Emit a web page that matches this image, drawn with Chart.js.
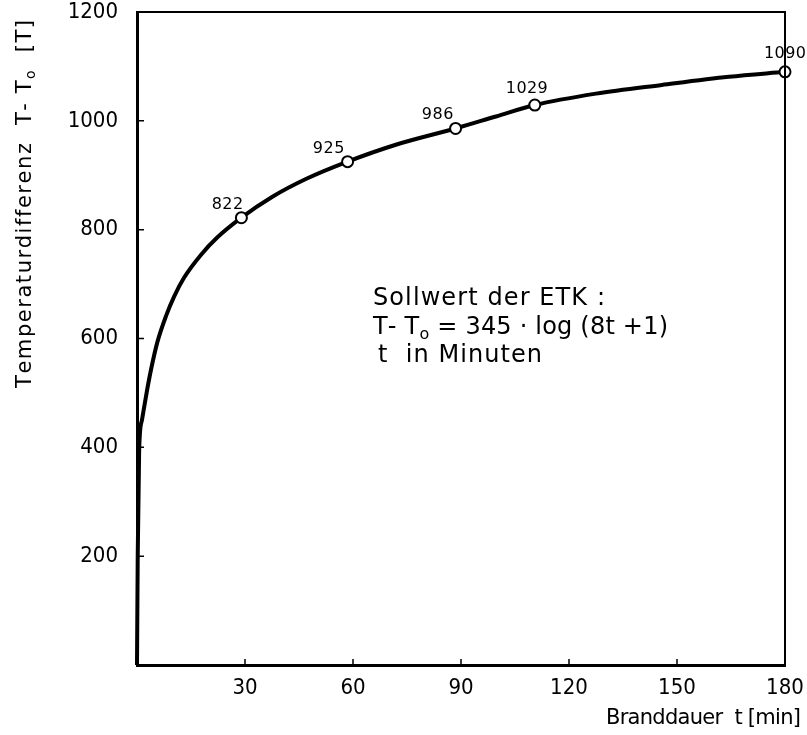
<!DOCTYPE html>
<html>
<head>
<meta charset="utf-8">
<script src="https://cdn.jsdelivr.net/npm/chart.js@4.4.1/dist/chart.umd.min.js"></script>
<style>
  html, body { margin: 0; padding: 0; background: #fff; }
  #wrap { width: 807px; height: 735px; position: relative; }
</style>
</head>
<body>
<div id="wrap"><canvas id="etkChart" width="807" height="735"></canvas></div>
<script>
// Einheitstemperaturkurve (ETK)
const curveTime = [0, 0.2, 0.6, 1.4, 2.8, 3.9, 5.6, 8.1, 10.3, 13.1, 17.8, 22.2, 29, 37.5, 46.9, 58.5, 71.9, 88.5, 99.7, 110.5, 127.5, 145.8, 164.4, 180];
const curveTemp = [0, 200, 396, 451, 505, 543, 592, 642, 677, 712, 754, 785, 822, 860, 893, 925, 956, 986, 1008, 1029, 1050, 1066, 1081, 1090];

const markTime = [29, 58.5, 88.5, 110.5, 180];
const markTemp = [822, 925, 986, 1029, 1090];
const markLabels = ['822', '925', '986', '1029', '1090'];

const xTicks = [30, 60, 90, 120, 150, 180];
const yTicks = [200, 400, 600, 800, 1000, 1200];

// label offsets from the marker (pixels)
const labelDx = [-14, -19, -18, -8, 0];
const labelDy = [-15, -15, -15, -18, -20];

const FONT = '"DejaVu Sans", sans-serif';
const TICK_FONT = '"DejaVu Sans Condensed", "DejaVu Sans", sans-serif';

// draw runs of text char by char, spread to a given total width
// runs: [{ t: text, size: px, dy: baseline shift }]
function spacedText(ctx, runs, x, y, target, align) {
  let natural = 0;
  let count = 0;
  runs.forEach(r => {
    ctx.font = r.size + 'px ' + FONT;
    for (const ch of r.t) { natural += ctx.measureText(ch).width; count++; }
  });
  const gap = count > 1 ? (target - natural) / (count - 1) : 0;
  let cx = align === 'center' ? x - target / 2 : (align === 'right' ? x - target : x);
  ctx.textAlign = 'left';
  ctx.textBaseline = 'alphabetic';
  runs.forEach(r => {
    ctx.font = r.size + 'px ' + FONT;
    for (const ch of r.t) {
      ctx.fillText(ch, cx, y + (r.dy || 0));
      cx += ctx.measureText(ch).width + gap;
    }
  });
}

// frame, inner ticks, point labels, axis titles and formula note
const figurePlugin = {
  id: 'figure',
  afterDraw(chart) {
    const ctx = chart.ctx;
    const area = chart.chartArea;
    const xs = chart.scales.x;
    const ys = chart.scales.y;
    ctx.save();

    // top and right frame
    ctx.strokeStyle = '#000';
    ctx.lineWidth = 2;
    ctx.beginPath();
    ctx.moveTo(area.left, area.top);
    ctx.lineTo(area.right, area.top);
    ctx.lineTo(area.right, area.bottom);
    ctx.stroke();

    // inward tick marks
    ctx.lineWidth = 1.5;
    ctx.beginPath();
    xTicks.forEach(v => {
      if (v >= xs.max) return;
      const px = xs.getPixelForValue(v);
      ctx.moveTo(px, area.bottom);
      ctx.lineTo(px, area.bottom - 6);
    });
    yTicks.forEach(v => {
      if (v >= ys.max) return;
      const py = ys.getPixelForValue(v);
      ctx.moveTo(area.left, py);
      ctx.lineTo(area.left + 7, py);
    });
    ctx.stroke();

    // value labels on the markers
    ctx.fillStyle = '#000';
    markLabels.forEach((lbl, i) => {
      const px = xs.getPixelForValue(markTime[i]);
      const py = ys.getPixelForValue(markTemp[i]);
      const w = lbl.length * 10.5;
      spacedText(ctx, [{ t: lbl, size: 16 }], px + labelDx[i], py + labelDy[i] + 6, w, 'center');
    });

    // x axis title
    spacedText(ctx, [{ t: 'Branddauer  t [min]', size: 21 }], 801, 724, 195, 'right');

    // y axis title (rotated, with subscript)
    ctx.save();
    ctx.translate(31, 204);
    ctx.rotate(-Math.PI / 2);
    spacedText(ctx, [
      { t: 'Temperaturdifferenz  T- T', size: 21 },
      { t: 'o', size: 14, dy: 4 },
      { t: '  [T]', size: 21 }
    ], 0, 0, 368, 'center');
    ctx.restore();

    // formula note
    spacedText(ctx, [{ t: 'Sollwert der ETK :', size: 24 }], 373, 305, 232, 'left');
    spacedText(ctx, [
      { t: 'T- T', size: 24 },
      { t: 'o', size: 16, dy: 5 },
      { t: ' = 345 · log (8t +1)', size: 24 }
    ], 373, 334, 295, 'left');
    spacedText(ctx, [{ t: 't  in Minuten', size: 24 }], 378, 362, 164, 'left');

    ctx.restore();
  }
};

const ctx = document.getElementById('etkChart').getContext('2d');

new Chart(ctx, {
  type: 'scatter',
  data: {
    datasets: [
      {
        data: curveTime.map((t, i) => ({ x: t, y: curveTemp[i] })),
        showLine: true,
        borderColor: '#000',
        borderWidth: 4,
        pointRadius: 0,
        cubicInterpolationMode: 'monotone',
        fill: false,
        order: 2
      },
      {
        data: markTime.map((t, i) => ({ x: t, y: markTemp[i] })),
        showLine: false,
        pointRadius: 5.5,
        pointBorderWidth: 2,
        pointBackgroundColor: '#fff',
        pointBorderColor: '#000',
        order: 1
      }
    ]
  },
  options: {
    responsive: false,
    animation: false,
    clip: false,
    layout: { padding: { left: 0, right: 22, top: 12, bottom: 0 } },
    plugins: {
      legend: { display: false },
      tooltip: { enabled: false }
    },
    scales: {
      x: {
        type: 'linear',
        min: 0,
        max: 180,
        afterFit(scale) {
          scale.height = 70;
          scale.paddingLeft = 0;
          scale.paddingRight = 0;
        },
        afterBuildTicks(scale) { scale.ticks = xTicks.map(v => ({ value: v })); },
        grid: { display: false, drawTicks: false },
        border: { display: true, color: '#000', width: 3 },
        ticks: {
          color: '#000',
          padding: 10,
          font: { family: TICK_FONT, size: 22 },
          maxRotation: 0,
          callback: v => String(v)
        }
      },
      y: {
        type: 'linear',
        min: 0,
        max: 1200,
        afterFit(scale) {
          scale.width = 137;
          scale.paddingTop = 0;
          scale.paddingBottom = 0;
        },
        afterBuildTicks(scale) { scale.ticks = yTicks.map(v => ({ value: v })); },
        grid: { display: false, drawTicks: false },
        border: { display: true, color: '#000', width: 3 },
        ticks: {
          color: '#000',
          padding: 19,
          font: { family: TICK_FONT, size: 22 },
          callback: v => String(v)
        }
      }
    }
  },
  plugins: [figurePlugin]
});
</script>
</body>
</html>
